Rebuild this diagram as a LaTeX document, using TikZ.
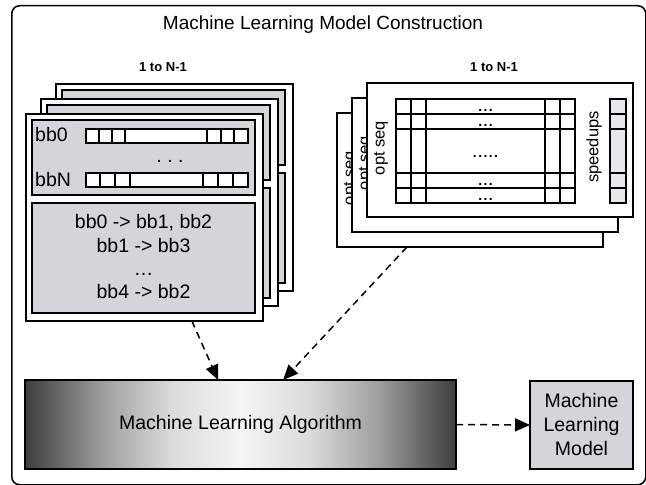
\documentclass[tikz,border=0pt]{standalone}
\usepackage{fontspec}
\setmainfont{Liberation Sans}
\usetikzlibrary{arrows.meta,calc}
\definecolor{panelgray}{RGB}{211,213,218}
\definecolor{spdgray}{RGB}{231,231,236}
\pgfdeclarehorizontalshading{mlshade}{100bp}{color(0bp)=(black!76); color(25bp)=(black!76); color(30bp)=(black!55); color(34bp)=(black!38); color(42bp)=(black!14); color(50bp)=(black!4); color(58bp)=(black!14); color(66bp)=(black!38); color(70bp)=(black!55); color(75bp)=(black!76); color(100bp)=(black!76)}
\tikzset{
  box/.style={draw, line width=1.3bp, inner sep=0pt, outer sep=0pt, anchor=north west},
  card/.style={box, fill=white},
  panel/.style={box, fill=panelgray},
  cell/.style={line width=1.2bp},
  txt/.style={font=\fontsize{19.5bp}{24bp}\selectfont, inner sep=0pt},
  dots/.style={font=\fontsize{19.5bp}{24bp}\selectfont, inner sep=0pt, text height=2.5bp, text depth=0pt, anchor=base},
  gdots/.style={font=\fontsize{14bp}{14bp}\selectfont\bfseries\addfontfeature{LetterSpace=10}, inner sep=0pt, text height=2bp, text depth=0pt, anchor=base},
  rtxt/.style={font=\fontsize{16.5bp}{20bp}\selectfont, inner sep=0pt, rotate=90},
  hdr/.style={font=\fontsize{13bp}{15bp}\selectfont\bfseries, inner sep=0pt, anchor=base},
  dasharrow/.style={line width=1.5bp, dash pattern=on 7bp off 5bp, -{Triangle[length=15bp,width=13bp]}},
}
\begin{document}
\begin{tikzpicture}[x=1bp,y=-1bp]
\useasboundingbox (0,0) rectangle (646,485);
% outer frame
\node[draw, line width=1.5bp, rounded corners=8bp, inner sep=0pt, anchor=north west, minimum width=634bp, minimum height=479bp] (frame) at (11,5) {};
\node[font=\fontsize{19bp}{22bp}\selectfont, inner sep=0pt, anchor=base] (title) at (323,30) {Machine Learning Model Construction};
\node[hdr] (hl) at (163,71.7) {1 to N-1};
\node[hdr] (hr) at (494,71.7) {1 to N-1};
% left stack
\foreach \k in {2,1,0}{
  \node[card, minimum width=237bp, minimum height=207bp] (lc\k) at ({26+15*\k},{114-15*\k}) {};
  \node[panel, minimum width=223bp, minimum height=75bp] (lt\k) at ({32+15*\k},{120-15*\k}) {};
  \node[panel, minimum width=223bp, minimum height=110bp] (lb\k) at ({32+15*\k},{203-15*\k}) {};
}
\node[txt, anchor=base west] (bbz) at (35,142) {bb0};
\node[txt, anchor=base west] (bbn) at (35,187) {bbN};
\node[box, fill=white, cell, minimum width=162bp, minimum height=14bp] (row0) at (86,129) {};
\foreach \x in {99,112,125,207,221,234} \draw[cell] (\x,129) -- (\x,143);
\node[box, fill=white, cell, minimum width=162bp, minimum height=14bp] (rowN) at (86,173) {};
\foreach \x in {100,115,130,203,218,233} \draw[cell] (\x,173) -- (\x,187);
\node[dots] (vd) at (170,163) {.\ .\ .};
\node[txt, anchor=base] (e1) at (143.5,229) {bb0 -> bb1, bb2};
\node[txt, anchor=base] (e2) at (143.5,252.7) {bb1 -> bb3};
\node[dots] (e3) at (143.5,275.5) {…};
\node[txt, anchor=base] (e4) at (143.5,298) {bb4 -> bb2};
% right stack
\foreach \k in {2,1,0}{
  \node[card, minimum width=266bp, minimum height=134bp] (rc\k) at ({367-15*\k},{83+15*\k}) {};
  \node[rtxt] (os\k) at ({381-15*\k},{148+15*\k}) {opt seq};
}
\node[box, cell, fill=white, minimum width=179bp, minimum height=104bp] (grid) at (396,99) {};
\foreach \x in {411,426,545,560} \draw[cell] (\x,99) -- (\x,203);
\foreach \y in {114,129,173,188} \draw[cell] (396,\y) -- (575,\y);
\foreach \y in {111.5,126.5,185.5,200.5} \node[gdots] at (485.5,\y) {...};
\node[gdots] (mid) at (485.5,157.5) {.....};
\node[box, cell, fill=spdgray, minimum width=16bp, minimum height=104bp] (spd) at (610,99) {};
\foreach \y in {114,188} \draw[line width=1.8bp] (610,\y) -- (626,\y);
\foreach \y in {129,173} \draw[cell] (610,\y) -- (626,\y);
\node[rtxt] (sp) at (594,147) {speedups};
% bottom
\node[box, shade, shading=mlshade, txt, minimum width=431bp, minimum height=89bp] (ml) at (25,380) {Machine Learning Algorithm};
\node[panel, txt, align=center, minimum width=103bp, minimum height=88bp] (mlm) at (530,381) {Machine\\Learning\\Model};
% arrows
\draw[dasharrow] ($(lc0.south west)!0.70!(lc0.south east)$) -- ($(ml.north west)!0.448!(ml.north east)$);
\draw[dasharrow] ($(rc2.south west)!0.263!(rc2.south east)$) -- ($(ml.north west)!0.599!(ml.north east)$);
\draw[dasharrow] (ml.east) -- (mlm.west);
\end{tikzpicture}
\end{document}
